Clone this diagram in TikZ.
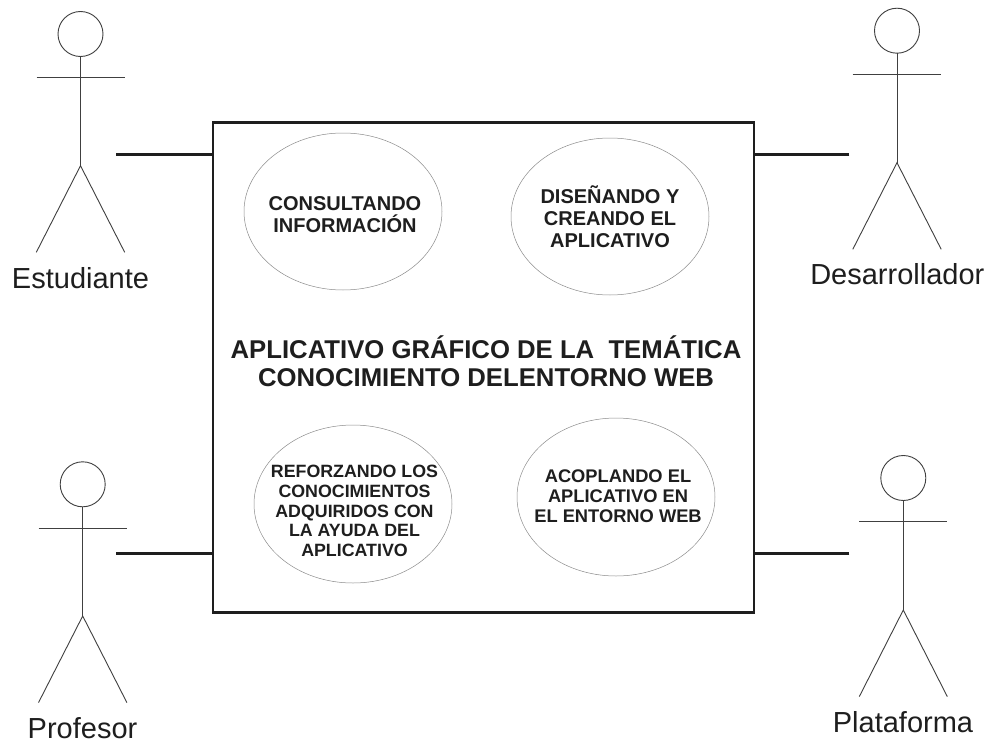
\documentclass[tikz,border=0pt]{standalone}
\usepackage{fontspec}
\setmainfont{Liberation Sans}
\usetikzlibrary{shapes.geometric}
\definecolor{ink}{HTML}{1E1E1E}
\tikzset{
 px/.style={x=1pt,y=-1pt},
 limb/.style={draw=black!75,line width=0.9pt},
 link/.style={draw=ink,line width=2.8pt},
 uc/.style={ellipse,draw=black!45,line width=0.5pt,inner sep=0pt,minimum width=#1},
 uctext/.style={align=center,inner sep=0pt,text=ink},
 actorname/.style={font=\fontsize{29}{32}\selectfont,anchor=base,inner sep=0pt,text=ink},
}
\newcommand{\actor}[8]{%
 \draw[limb] (#1,#2) circle (#3);
 \draw[limb] (#1,#2+#3) -- (#1,#7);
 \draw[limb] (#5,#4) -- (#6,#4);
 \draw[limb] (#1-#8,#7+86.6) -- (#1,#7) -- (#1+#8,#7+86.6);
}
\begin{document}
\begin{tikzpicture}[px]
\useasboundingbox (0,0) rectangle (991,744);
\fill[white] (0,0) rectangle (991,744);
\actor{80.5}{34}{22.5}{77.7}{36.7}{125}{165.7}{44.2}
\actor{897}{30.7}{22.5}{74.7}{852.7}{941}{162.7}{44.2}
\actor{82.7}{484.3}{22.5}{528.3}{38.5}{126.7}{616}{44.2}
\actor{903.3}{478}{22.5}{521.7}{859.3}{947}{610}{44}
\node[actorname] (est) at (80.5,288) {Estudiante};
\node[actorname] (des) at (897.3,284) {Desarrollador};
\node[actorname] (pro) at (82.5,738) {Profesor};
\node[actorname] (pla) at (903,732.7) {Plataforma};
\node[draw=ink,line width=2.8pt,minimum width=541pt,minimum height=490pt,inner sep=0pt] (sys) at (483.5,367.5) {};
\coordinate (a1) at (116,154.3);
\coordinate (a2) at (849.3,154.3);
\coordinate (a3) at (116,553.3);
\coordinate (a4) at (849.3,553.3);
\draw[link] (a1) -- (a1-|sys.west);
\draw[link] (a2) -- (a2-|sys.east);
\draw[link] (a3) -- (a3-|sys.west);
\draw[link] (a4) -- (a4-|sys.east);
\node[uc=198pt,minimum height=157pt] (u1) at (343,211.5) {};
\node[uctext,font=\bfseries\fontsize{20}{22.5}\selectfont] (t1) at (345,214.5) {CONSULTANDO\\INFORMACIÓN};
\node[uc=198pt,minimum height=157pt] (u2) at (610,216.5) {};
\node[uctext,font=\bfseries\fontsize{20}{22}\selectfont] (t2) at (610,217) {DISEÑANDO Y\\CREANDO EL\\APLICATIVO};
\node[uc=198pt,minimum height=158pt] (u3) at (353,504) {};
\node[uctext,font=\bfseries\fontsize{17.8}{19.8}\selectfont] (t3) at (354.5,511) {REFORZANDO LOS\\CONOCIMIENTOS\\ADQUIRIDOS CON\\LA AYUDA DEL\\APLICATIVO};
\node[uc=198pt,minimum height=158pt] (u4) at (616,497) {};
\node[uctext,font=\bfseries\fontsize{18.3}{20}\selectfont] (t4) at (618,496) {ACOPLANDO EL\\APLICATIVO EN\\EL ENTORNO WEB};
\node[align=center,text=ink,font=\bfseries\fontsize{25.7}{28}\selectfont,inner sep=0pt] (title) at (486,361) {APLICATIVO GRÁFICO DE LA\ \ TEMÁTICA\\CONOCIMIENTO DELENTORNO WEB};
\end{tikzpicture}
\end{document}
